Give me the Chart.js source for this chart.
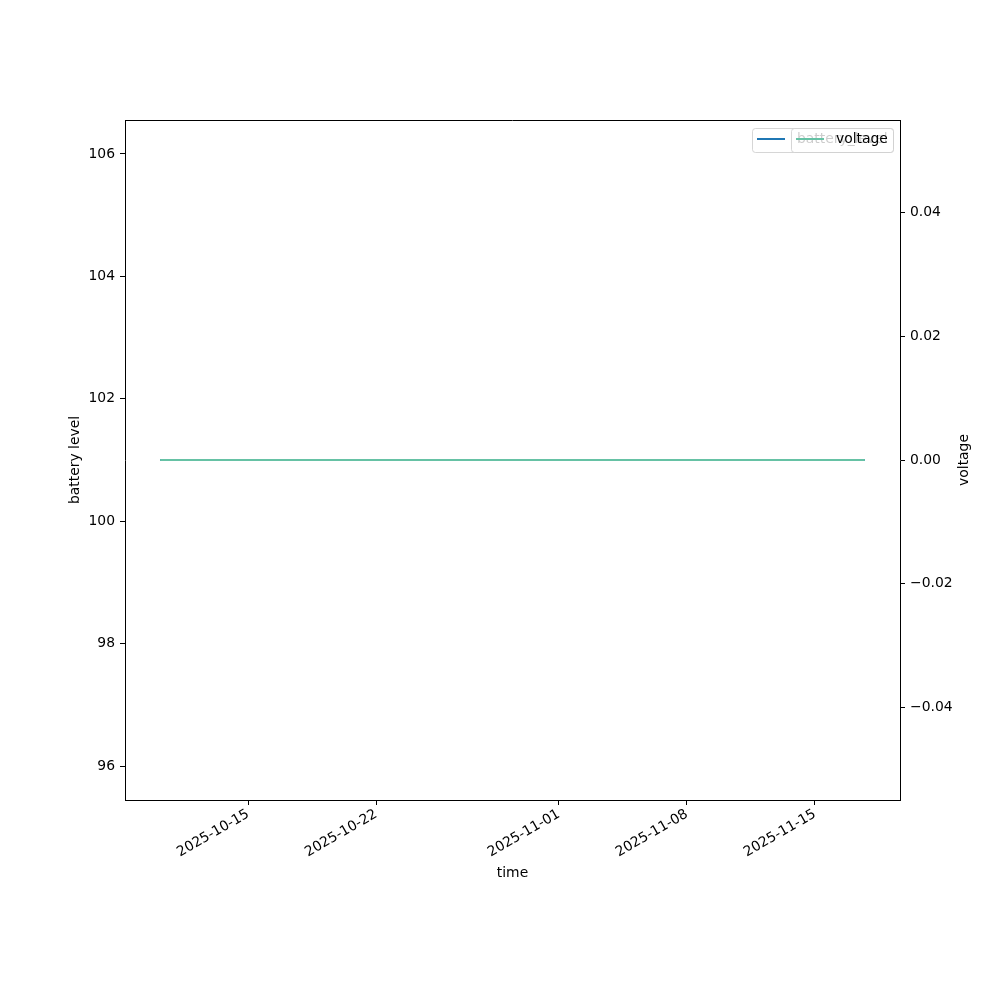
<!DOCTYPE html>
<html>
<head>
<meta charset="utf-8">
<script src="https://cdn.jsdelivr.net/npm/chart.js@4.4.1/dist/chart.umd.min.js"></script>
<style>
  html, body { margin: 0; padding: 0; background: #fff; }
  #wrap { width: 1000px; height: 1000px; }
</style>
</head>
<body>
<div id="wrap"><canvas id="myChart" width="1000" height="1000"></canvas></div>
<script>
// readings (flat series)
const times = ['2025-10-10T04:30', '2025-10-20T00:00', '2025-11-01T00:00', '2025-11-10T00:00', '2025-11-17T17:30'];
const batteryLevel = [101, 101, 101, 101, 101];
const voltage = [0, 0, 0, 0, 0];

const xTickDates = ['2025-10-15', '2025-10-22', '2025-11-01', '2025-11-08', '2025-11-15'];
const batteryTicks = [96, 98, 100, 102, 104, 106];
const voltageTicks = [-0.04, -0.02, 0, 0.02, 0.04];

const toMs = s => Date.parse(s + (s.length === 10 ? 'T00:00:00Z' : ':00Z'));
const tMin = toMs(times[0]), tMax = toMs(times[times.length - 1]);
const tPad = (tMax - tMin) * 0.05;

const FONT = 'DejaVu Sans';
const FSIZE = 13.9;
Chart.defaults.font.family = FONT;
Chart.defaults.font.size = FSIZE;
Chart.defaults.color = '#000';

const fmtDate = v => new Date(v).toISOString().slice(0, 10);
const minus = s => s.replace('-', '\u2212');

const frameAndLegend = {
    id: 'frameAndLegend',
    afterDraw(chart) {
        const c = chart.ctx, a = chart.chartArea;
        c.save();
        c.strokeStyle = '#000';
        c.lineWidth = 1;
        c.beginPath();
        c.moveTo(a.left, a.top + 0.5);
        c.lineTo(a.right, a.top + 0.5);
        c.stroke();

        // right axis title, reads bottom to top
        c.translate(964, (a.top + a.bottom) / 2);
        c.rotate(-Math.PI / 2);
        c.font = FSIZE + 'px ' + FONT;
        c.fillStyle = '#000';
        c.textAlign = 'center';
        c.textBaseline = 'middle';
        c.fillText('voltage', 0, 0);
        c.restore();

        // two legends stacked in the upper right corner
        const legend = (x0, label, color) => {
            c.save();
            const x1 = a.right - 7, y0 = a.top + 8, y1 = a.top + 32;
            c.beginPath();
            c.roundRect(x0 + 0.5, y0 + 0.5, x1 - x0, y1 - y0, 3);
            c.fillStyle = 'rgba(255,255,255,0.8)';
            c.fill();
            c.strokeStyle = 'rgba(204,204,204,0.8)';
            c.lineWidth = 1;
            c.stroke();
            c.strokeStyle = color;
            c.lineWidth = 2;
            c.beginPath();
            c.moveTo(x0 + 5, y0 + 11);
            c.lineTo(x0 + 33, y0 + 11);
            c.stroke();
            c.font = FSIZE + 'px ' + FONT;
            c.fillStyle = '#000';
            c.textBaseline = 'middle';
            c.fillText(label, x0 + 45, y0 + 11);
            c.restore();
        };
        legend(752, 'battery_level', '#1f77b4');
        legend(791, 'voltage', '#66c2a5');
    }
};

const ctx = document.getElementById('myChart').getContext('2d');
const myChart = new Chart(ctx, {
    type: 'line',
    data: {
        datasets: [
            {
                label: 'battery_level',
                data: times.map((t, i) => ({ x: toMs(t), y: batteryLevel[i] })),
                borderColor: '#1f77b4',
                borderWidth: 2,
                pointRadius: 0,
                yAxisID: 'y',
                order: 2
            },
            {
                label: 'voltage',
                data: times.map((t, i) => ({ x: toMs(t), y: voltage[i] })),
                borderColor: '#66c2a5',
                borderWidth: 2,
                pointRadius: 0,
                yAxisID: 'y1',
                order: 1
            }
        ]
    },
    options: {
        responsive: false,
        animation: false,
        layout: { padding: { top: 120, left: 0, right: 0, bottom: 0 } },
        plugins: { legend: { display: false }, tooltip: { enabled: false } },
        scales: {
            x: {
                type: 'linear',
                min: tMin - tPad,
                max: tMax + tPad,
                afterBuildTicks: ax => { ax.ticks = xTickDates.map(d => ({ value: toMs(d) })); },
                afterFit: ax => { ax.height = 200; },
                ticks: {
                    callback: v => fmtDate(v),
                    minRotation: 30,
                    maxRotation: 30,
                    padding: 1
                },
                grid: { drawOnChartArea: false, tickLength: 5, color: '#000' },
                border: { color: '#000', width: 1 },
                title: { display: true, text: 'time', padding: { top: 118, bottom: 118 } }
            },
            y: {
                position: 'left',
                min: 95.445,
                max: 106.555,
                afterBuildTicks: ax => { ax.ticks = batteryTicks.map(v => ({ value: v })); },
                afterFit: ax => { ax.width = 125; },
                ticks: { callback: v => String(v), padding: 5 },
                grid: { drawOnChartArea: false, tickLength: 5, color: '#000' },
                border: { color: '#000', width: 1 },
                title: { display: true, text: 'battery level', padding: { top: 67, bottom: 67 } }
            },
            y1: {
                position: 'right',
                min: -0.055,
                max: 0.055,
                afterBuildTicks: ax => { ax.ticks = voltageTicks.map(v => ({ value: v })); },
                afterFit: ax => { ax.width = 100; },
                ticks: { callback: v => minus(v.toFixed(2)), padding: 5 },
                grid: { drawOnChartArea: false, tickLength: 5, color: '#000' },
                border: { color: '#000', width: 1 }
            }
        }
    },
    plugins: [frameAndLegend]
});
</script>
</body>
</html>
